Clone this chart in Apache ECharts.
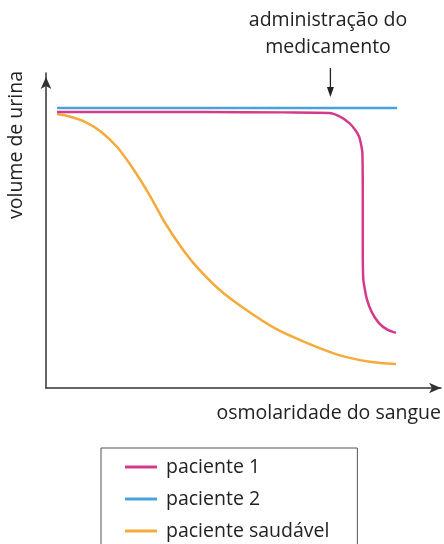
<!DOCTYPE html>
<html>
<head>
<meta charset="utf-8">
<title>volume de urina</title>
<script src="https://cdn.jsdelivr.net/npm/echarts@6/dist/echarts.min.js"></script>
<style>
    html, body { margin: 0; padding: 0; background: #fff; }
    #chart { width: 444px; height: 544px; }
</style>
</head>
<body>
<div id="chart"></div>
<script>
// séries (unidades arbitrárias, eixo 0-100)
const seriesNames = ['paciente 1', 'paciente 2', 'paciente saudável'];
const paciente1 = [
    [2.8, 87.6], [40, 87.6], [60, 87.5], [71.7, 87.3], [74.2, 86.3], [76.8, 84.1],
    [78.3, 81.9], [79.3, 79.7], [79.8, 77.1], [80.1, 74.6], [80.2, 60], [80.2, 45],
    [80.3, 35], [80.7, 31.5], [81.3, 27.9], [82.5, 24], [84.3, 20.6], [86.3, 18.6], [88.6, 17.5]
];
const paciente2 = [[2.8, 88.9], [45, 88.9], [88.9, 88.9]];
const saudavel = [
    [2.8, 87.0], [6, 86.2], [10, 84.4], [14, 81.3], [18, 76.5], [22, 69.7],
    [26, 61.7], [30, 52.7], [34, 45.1], [38, 38.7], [44, 31.1], [50, 25.4],
    [58, 18.9], [66, 14.3], [74, 10.5], [82, 8.3], [88.6, 7.6]
];
const colors = ['#d43a8c', '#4aa2dc', '#f5aa3c'];
// seta da administração do medicamento
const medicamentoX = 72;
const medicamentoY = [101.6, 92.4];

const FONT = '"Open Sans", sans-serif';

function lineSeries(name, data, color, extra) {
    return Object.assign({
        name: name,
        type: 'line',
        data: data,
        smooth: 0.3,
        showSymbol: false,
        symbol: 'none',
        lineStyle: { color: color, width: 2.5 },
        itemStyle: { color: color }
    }, extra || {});
}

function drawChart(chart) {
    let option = {
        animation: false,
        grid: { left: 46, right: 2, top: 73, bottom: 156 },
        xAxis: {
            type: 'value', min: 0, max: 100,
            name: 'osmolaridade do sangue',
            nameLocation: 'end',
            nameGap: 0,
            nameTextStyle: {
                fontFamily: FONT, fontSize: 19.5, color: '#222',
                align: 'right', verticalAlign: 'top', padding: [15, 0, 0, 0]
            },
            axisLine: {
                lineStyle: { color: '#333', width: 1.5 },
                symbol: ['none', 'arrow'], symbolSize: [8, 12]
            },
            axisTick: { show: false },
            axisLabel: { show: false },
            splitLine: { show: false }
        },
        yAxis: {
            type: 'value', min: 0, max: 100,
            axisLine: {
                show: true,
                lineStyle: { color: '#333', width: 1.5 },
                symbol: ['none', 'arrow'], symbolSize: [8, 12], symbolOffset: [0, -4]
            },
            axisTick: { show: false },
            axisLabel: { show: false },
            splitLine: { show: false }
        },
        legend: {
            data: seriesNames,
            orient: 'vertical',
            left: 101, top: 448,
            height: 200,
            padding: [9, 28, 12, 24],
            itemGap: 12,
            itemWidth: 32, itemHeight: 3,
            icon: 'rect',
            borderColor: '#555', borderWidth: 1,
            textStyle: { fontFamily: FONT, fontSize: 19.5, color: '#222', padding: [0, 0, 0, 4] }
        },
        graphic: [{
            id: 'yName',
            type: 'text',
            x: 16, y: 145,
            rotation: Math.PI / 2,
            style: {
                text: 'volume de urina', fontFamily: FONT, fontSize: 19.5, fill: '#222',
                align: 'center', verticalAlign: 'middle'
            }
        }, {
            id: 'nota',
            type: 'text',
            x: 328, y: 34,
            style: {
                text: 'administração do\nmedicamento', fontFamily: FONT, fontSize: 19.5, fill: '#222',
                align: 'center', verticalAlign: 'middle', lineHeight: 27
            }
        }],
        series: [
            lineSeries(seriesNames[0], paciente1, colors[0], { z: 3 }),
            lineSeries(seriesNames[1], paciente2, colors[1], { z: 2 }),
            lineSeries(seriesNames[2], saudavel, colors[2], { z: 1 })
        ]
    };
    chart.setOption(option);
    addArrow(chart);
}
// seta acima do gráfico, posicionada pela escala do eixo
function addArrow(chart) {
    let top = chart.convertToPixel({ gridIndex: 0 }, [medicamentoX, medicamentoY[0]]);
    let tip = chart.convertToPixel({ gridIndex: 0 }, [medicamentoX, medicamentoY[1]]);
    chart.setOption({
        graphic: [{
            id: 'setaLinha',
            type: 'line',
            shape: { x1: top[0], y1: top[1], x2: tip[0], y2: tip[1] - 8 },
            style: { stroke: '#222', lineWidth: 1.3 }
        }, {
            id: 'setaPonta',
            type: 'polygon',
            shape: { points: [[tip[0] - 3.5, tip[1] - 10], [tip[0] + 3.5, tip[1] - 10], [tip[0], tip[1]]] },
            style: { fill: '#222' }
        }]
    });
}

let chart = echarts.init(document.getElementById('chart'));
drawChart(chart);
</script>
</body>
</html>
